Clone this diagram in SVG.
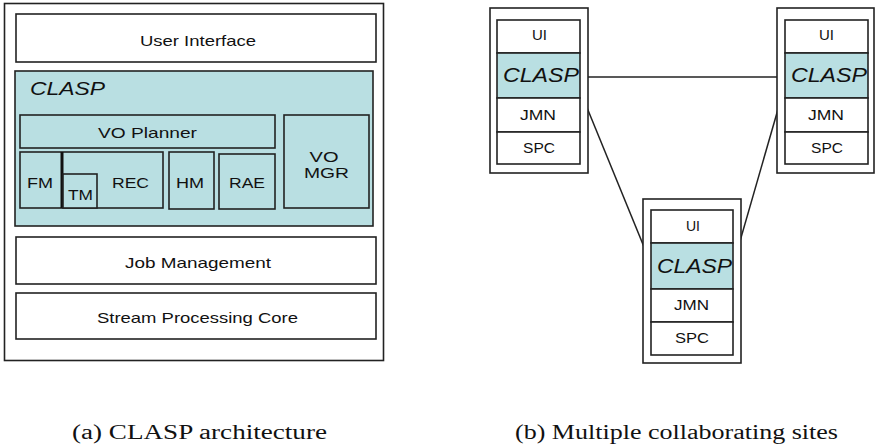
<svg xmlns="http://www.w3.org/2000/svg" width="875" height="447" viewBox="0 0 875 447">
<style>
.box{fill:#fff;stroke:#222;stroke-width:1.6}
.cl{fill:#b9dfe2;stroke:#222;stroke-width:1.6}
.t{font-family:"Liberation Sans",Arial,sans-serif;font-size:15px;fill:#111;text-anchor:middle}
.it{font-family:"Liberation Sans",Arial,sans-serif;font-style:italic;fill:#111}
.cap{font-family:"Liberation Serif","Times New Roman",serif;font-size:20px;fill:#111}
.ln{stroke:#222;stroke-width:1.5;fill:none}
</style>
<rect width="875" height="447" fill="#fff"/>
<g id="arch">
  <rect class="box" x="4.5" y="3.5" width="379" height="357"/>
  <g id="ui"><rect class="box" x="16" y="14" width="360" height="48"/><text class="t" x="198" y="46" textLength="116" lengthAdjust="spacingAndGlyphs">User Interface</text></g>
  <g id="clasp"><rect class="cl" x="15" y="71" width="358" height="155"/><text class="it" x="30" y="95" font-size="18" textLength="75" lengthAdjust="spacingAndGlyphs">CLASP</text></g>
  <g id="vop"><rect class="cl" x="20" y="115" width="255" height="33"/><text class="t" x="147.5" y="138" textLength="99" lengthAdjust="spacingAndGlyphs">VO Planner</text></g>
  <g id="rec"><rect class="cl" x="20" y="152" width="143" height="56"/><line x1="62" y1="152" x2="62" y2="208" stroke="#111" stroke-width="3"/><text class="t" x="130.5" y="188" textLength="37" lengthAdjust="spacingAndGlyphs">REC</text></g>
  <g id="fm"><text class="t" x="40" y="188" textLength="26" lengthAdjust="spacingAndGlyphs">FM</text></g>
  <g id="tm"><rect class="cl" x="63" y="174" width="34" height="34"/><text class="t" x="80.5" y="200" textLength="25" lengthAdjust="spacingAndGlyphs">TM</text></g>
  <g id="hm"><rect class="cl" x="169" y="152" width="45" height="57"/><text class="t" x="190" y="188" textLength="28" lengthAdjust="spacingAndGlyphs">HM</text></g>
  <g id="rae"><rect class="cl" x="219" y="154" width="56" height="55"/><text class="t" x="247" y="188" textLength="36" lengthAdjust="spacingAndGlyphs">RAE</text></g>
  <g id="vomgr"><rect class="cl" x="284" y="115" width="85" height="93"/><text class="t" x="324" y="162" font-size="14" textLength="29" lengthAdjust="spacingAndGlyphs">VO</text><text class="t" x="326.5" y="178" font-size="14" textLength="45" lengthAdjust="spacingAndGlyphs">MGR</text></g>
  <g id="jm"><rect class="box" x="16" y="237" width="360" height="47"/><text class="t" x="198" y="268" textLength="146" lengthAdjust="spacingAndGlyphs">Job Management</text></g>
  <g id="spc"><rect class="box" x="16" y="293" width="360" height="46"/><text class="t" x="197.5" y="323" textLength="201" lengthAdjust="spacingAndGlyphs">Stream Processing Core</text></g>
</g>
<g id="connectors">
  <line class="ln" x1="580" y1="77" x2="785" y2="77"/>
  <line class="ln" x1="581" y1="93" x2="651" y2="264"/>
  <line class="ln" x1="785" y1="85" x2="734" y2="262"/>
</g>
<g id="site1">
  <rect class="box" x="490" y="8" width="98" height="165"/>
  <rect class="box" x="497" y="20" width="83" height="33"/>
  <rect class="cl" x="497" y="53" width="83" height="45"/>
  <rect class="box" x="497" y="98" width="83" height="34"/>
  <rect class="box" x="497" y="132" width="83" height="32"/>
  <text class="t" x="539.5" y="40" textLength="15" lengthAdjust="spacingAndGlyphs">UI</text>
  <text class="it" x="503" y="82" font-size="21" textLength="76" lengthAdjust="spacingAndGlyphs">CLASP</text>
  <text class="t" x="538" y="120" textLength="36" lengthAdjust="spacingAndGlyphs">JMN</text>
  <text class="t" x="539" y="153" textLength="32" lengthAdjust="spacingAndGlyphs">SPC</text>
</g>
<g id="site2">
  <rect class="box" x="777" y="8" width="97" height="165"/>
  <rect class="box" x="785" y="20" width="83" height="33"/>
  <rect class="cl" x="785" y="53" width="83" height="45"/>
  <rect class="box" x="785" y="98" width="83" height="34"/>
  <rect class="box" x="785" y="132" width="83" height="32"/>
  <text class="t" x="826.5" y="40" textLength="15" lengthAdjust="spacingAndGlyphs">UI</text>
  <text class="it" x="791" y="82" font-size="21" textLength="76" lengthAdjust="spacingAndGlyphs">CLASP</text>
  <text class="t" x="826" y="120" textLength="36" lengthAdjust="spacingAndGlyphs">JMN</text>
  <text class="t" x="827" y="153" textLength="32" lengthAdjust="spacingAndGlyphs">SPC</text>
</g>
<g id="site3">
  <rect class="box" x="643" y="199" width="98" height="164"/>
  <rect class="box" x="651" y="210" width="82" height="33"/>
  <rect class="cl" x="651" y="243" width="82" height="46"/>
  <rect class="box" x="651" y="289" width="82" height="33"/>
  <rect class="box" x="651" y="322" width="82" height="33"/>
  <text class="t" x="693" y="231" textLength="14" lengthAdjust="spacingAndGlyphs">UI</text>
  <text class="it" x="657" y="273" font-size="21" textLength="75" lengthAdjust="spacingAndGlyphs">CLASP</text>
  <text class="t" x="691.5" y="310" textLength="35" lengthAdjust="spacingAndGlyphs">JMN</text>
  <text class="t" x="692" y="343" textLength="34" lengthAdjust="spacingAndGlyphs">SPC</text>
</g>
<text class="cap" x="72" y="439" textLength="255" lengthAdjust="spacingAndGlyphs">(a) CLASP architecture</text>
<text class="cap" x="515" y="439" textLength="323" lengthAdjust="spacingAndGlyphs">(b) Multiple collaborating sites</text>
</svg>
